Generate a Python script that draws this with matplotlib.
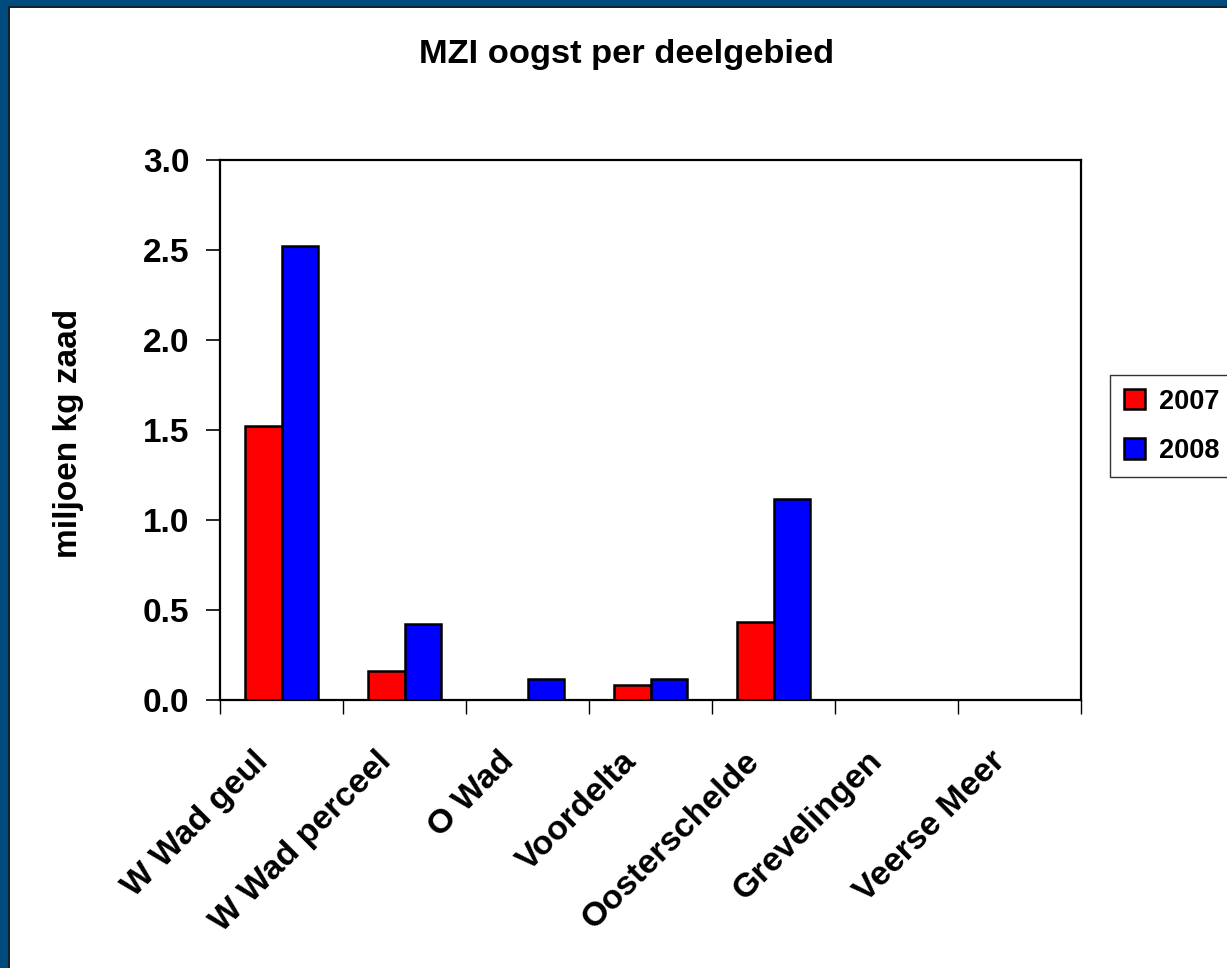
import numpy as np
import matplotlib
matplotlib.use("Agg")
import matplotlib.pyplot as plt
from matplotlib.patches import Rectangle
from matplotlib.ticker import FormatStrFormatter

plt.rcParams['font.family'] = ['Liberation Sans', 'DejaVu Sans']
plt.rcParams['font.weight'] = 'bold'

categories = ['W Wad geul', 'W Wad perceel', 'O Wad', 'Voordelta',
              'Oosterschelde', 'Grevelingen', 'Veerse Meer']
years = ['2007', '2008']
oogst_2007 = [1.52, 0.16, 0.0, 0.085, 0.435, 0.0, 0.0]
oogst_2008 = [2.52, 0.42, 0.115, 0.115, 1.115, 0.0, 0.0]
y_ticks = [0.0, 0.5, 1.0, 1.5, 2.0, 2.5, 3.0]

W, H = 1227, 968
fig = plt.figure(figsize=(W / 100, H / 100), dpi=100, facecolor='#004B7D')

# slide background: white panel with thin dark edge
fig.patches.append(Rectangle((8 / W, 0), 1, 1 - 6 / H, transform=fig.transFigure,
                             facecolor='#10222f', edgecolor='none', zorder=-2))
fig.patches.append(Rectangle((10 / W, 0), 1, 1 - 8 / H, transform=fig.transFigure,
                             facecolor='white', edgecolor='none', zorder=-1))

ax = fig.add_axes([220 / W, 1 - 700 / H, 861 / W, 540 / H])
ax.set_facecolor('white')
ax.set_zorder(2)

x = np.arange(len(categories))
bw = 0.293
b1 = ax.bar(x - bw / 2, oogst_2007, bw, color='#FF0000', edgecolor='black',
            linewidth=1.8, label=years[0], zorder=3)
b2 = ax.bar(x + bw / 2, oogst_2008, bw, color='#0000FF', edgecolor='black',
            linewidth=1.8, label=years[1], zorder=3)

ax.set_xlim(-0.5, len(categories) - 0.5)
ax.set_ylim(0, 3.0)
ax.set_yticks(y_ticks)
ax.yaxis.set_major_formatter(FormatStrFormatter('%.1f'))
ax.tick_params(axis='y', direction='out', length=10, width=1.2, pad=12,
               labelsize=24)
ax.set_xticks(np.arange(len(categories) + 1) - 0.5)
ax.set_xticklabels([])
ax.tick_params(axis='x', direction='out', length=10, width=1.0)
for s in ax.spines.values():
    s.set_linewidth(1.6)
    s.set_color('black')

for i, name in enumerate(categories):
    ax.annotate(name, xy=(i, 0), xycoords=('data', 'axes fraction'),
                xytext=(-9, -45), textcoords='offset points',
                rotation=45, rotation_mode='anchor', ha='right', va='baseline',
                fontsize=24.5, fontweight='bold', annotation_clip=False)

fig.text(627 / W, 1 - 55 / H, 'MZI oogst per deelgebied', ha='center',
         va='center', fontsize=24.8, fontweight='bold')
fig.text(68 / W, 1 - 433 / H, 'miljoen kg zaad', ha='center', va='center',
         rotation=90, fontsize=24, fontweight='bold')

leg = fig.legend(handles=[b1, b2], loc='upper left',
                 bbox_to_anchor=(1110 / W, 1 - 375 / H), bbox_transform=fig.transFigure,
                 fontsize=19.5, frameon=True, fancybox=False, shadow=False,
                 handlelength=0.8, handleheight=0.8, handletextpad=0.5,
                 labelspacing=0.85, borderpad=0.5, borderaxespad=0)
leg.get_frame().set_edgecolor('black')
leg.get_frame().set_linewidth(1.0)
for t in leg.get_texts():
    t.set_fontweight('bold')

fig.savefig('out.png', dpi=100, facecolor=fig.get_facecolor())
